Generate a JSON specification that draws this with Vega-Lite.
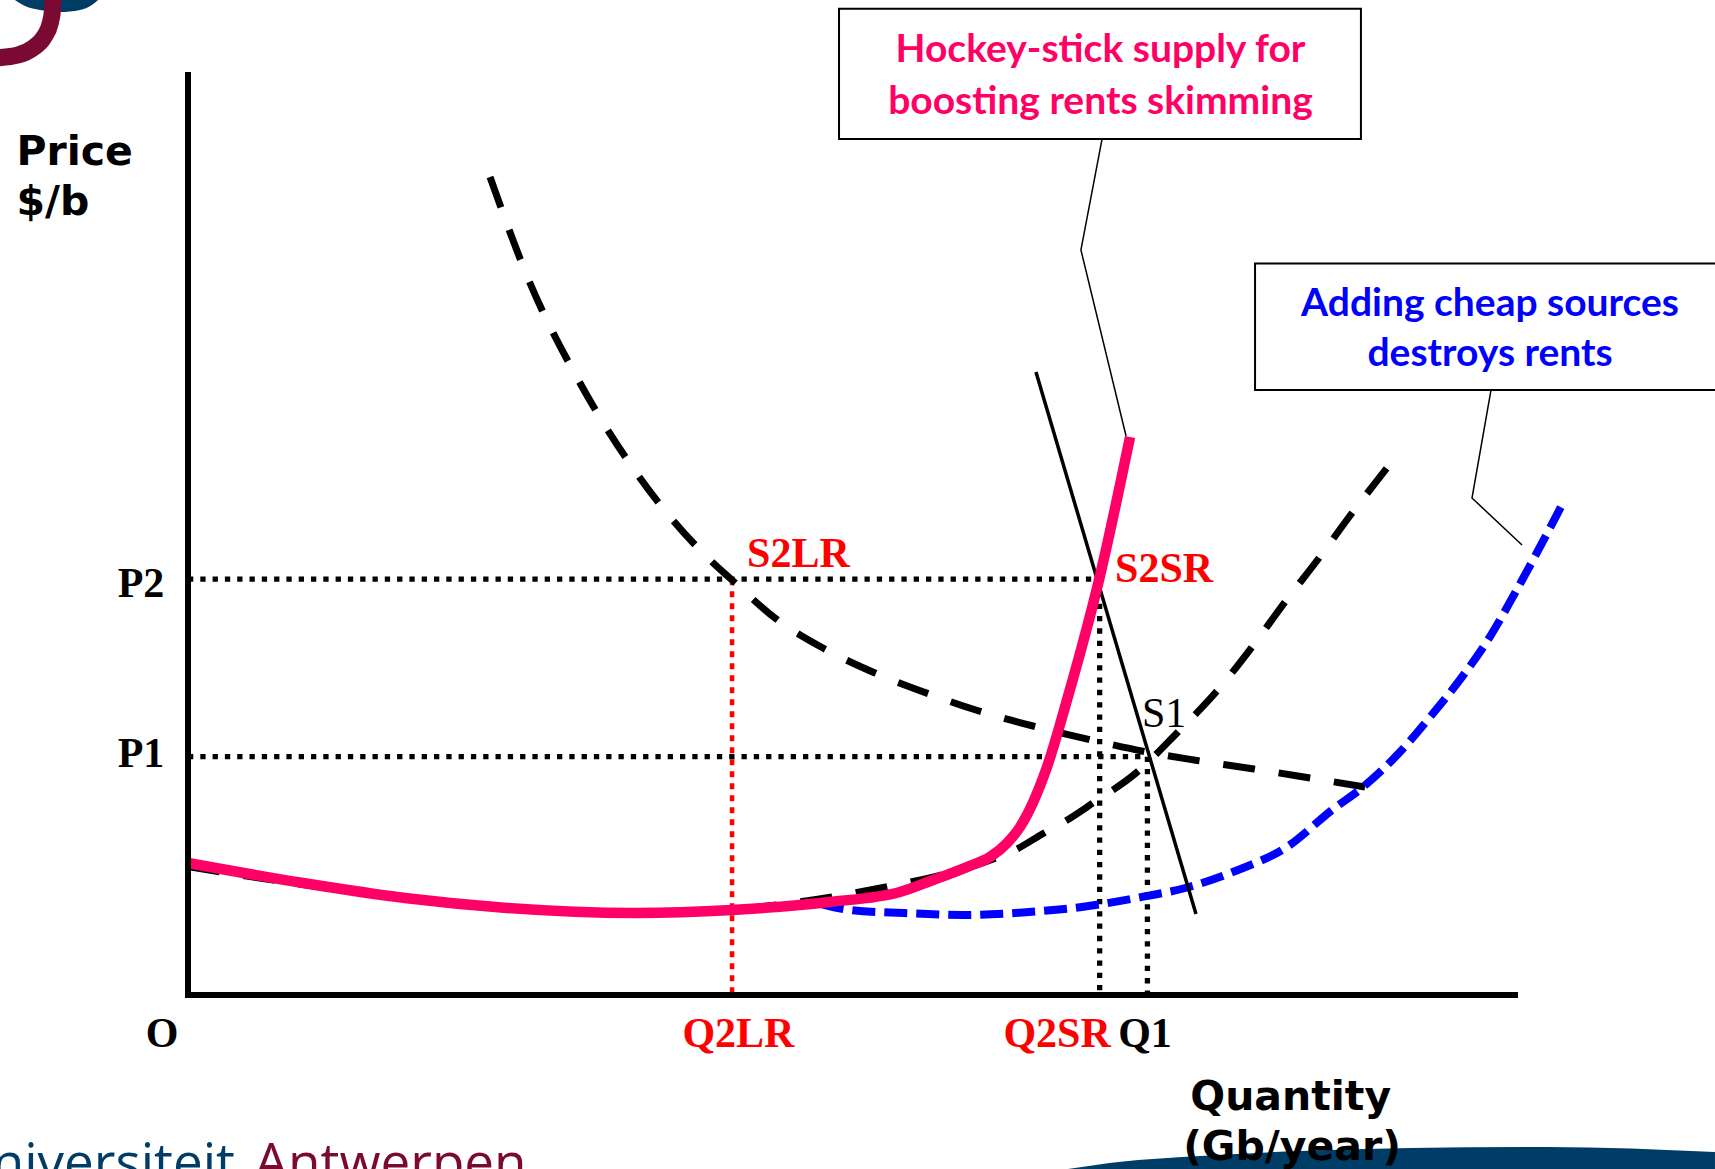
{
  "$schema": "https://vega.github.io/schema/vega-lite/v6.json",
  "width": 1715,
  "height": 1169,
  "autosize": {"type": "none"},
  "padding": 0,
  "background": "white",
  "config": {"view": {"stroke": null}},
  "datasets": {
    "swoosh": [
      {"q": 66.31, "p": -18.91}, {"q": 70.5, "p": -18.1}, {"q": 74.91, "p": -17.61}, {"q": 83.8, "p": -16.96},
      {"q": 92.09, "p": -16.63}, {"q": 102.41, "p": -16.52}, {"q": 115.07, "p": -17.07}
    ],
    "logoArc": [
      {"i": 0, "q": -14.55, "p": 101.85}, {"i": 1, "q": -12.81, "p": 102.17}, {"i": 2, "q": -11.68, "p": 102.93},
      {"i": 3, "q": -10.85, "p": 104.13}, {"i": 4, "q": -10.4, "p": 105.54}, {"i": 5, "q": -10.21, "p": 107.07},
      {"i": 6, "q": -10.17, "p": 108.6}
    ],
    "logoBlob": [
      {"q": -13.04, "p": 108.15}, {"q": -12.28, "p": 107.5}, {"q": -11.15, "p": 107.07}, {"q": -9.65, "p": 106.85},
      {"q": -8.14, "p": 107.07}, {"q": -7.24, "p": 107.61}, {"q": -6.78, "p": 108.15}
    ],
    "boxes": [
      {"q": 49.06, "q2": 88.39, "p": 107.2, "p2": 93.04},
      {"q": 80.41, "q2": 120, "p": 79.5, "p2": 65.76}
    ],
    "leaders": [
      {"id": "L1", "i": 0, "q": 68.88, "p": 93.04}, {"id": "L1", "i": 1, "q": 67.29, "p": 80.98}, {"id": "L1", "i": 2, "q": 70.69, "p": 60.76},
      {"id": "L2", "i": 0, "q": 98.19, "p": 65.76}, {"id": "L2", "i": 1, "q": 96.76, "p": 54.02}, {"id": "L2", "i": 2, "q": 100.53, "p": 48.91}
    ],
    "dottedBlack": [
      {"q": 0, "p": 45.2, "q2": 68.7, "p2": 45.2},
      {"q": 0, "p": 25.9, "q2": 72.3, "p2": 25.9},
      {"q": 68.7, "p": 45.2, "q2": 68.7, "p2": 0},
      {"q": 72.3, "p": 25.9, "q2": 72.3, "p2": 0}
    ],
    "dottedRed": [
      {"q": 41.0, "p": 45.2, "q2": 41.0, "p2": 0}
    ],
    "curveB": [
      {"q": 0, "p": 13.95}, {"q": 8.67, "p": 12.0}, {"q": 16.35, "p": 10.45}, {"q": 24.04, "p": 9.4},
      {"q": 33.68, "p": 8.9}, {"q": 40.99, "p": 9.3}, {"q": 48.3, "p": 10.6}, {"q": 52.6, "p": 11.75},
      {"q": 57.42, "p": 13.3}, {"q": 60.06, "p": 14.46}, {"q": 62.32, "p": 15.76},
      {"q": 64.51, "p": 17.61}, {"q": 66.01, "p": 18.8}, {"q": 68.2, "p": 20.87}, {"q": 71.44, "p": 24.13},
      {"q": 74.6, "p": 28.59}, {"q": 77.47, "p": 32.93}, {"q": 80.18, "p": 37.83}, {"q": 82.67, "p": 42.72},
      {"q": 85.23, "p": 47.5}, {"q": 87.72, "p": 52.39}, {"q": 90.35, "p": 57.28}
    ],
    "curveA": [
      {"q": 22.76, "p": 88.91}, {"q": 25.77, "p": 77.39}, {"q": 29.54, "p": 66.52}, {"q": 34.06, "p": 56.2},
      {"q": 39.34, "p": 47.28}, {"q": 40.99, "p": 45.11}, {"q": 44.23, "p": 40.98}, {"q": 47.85, "p": 37.72},
      {"q": 51.77, "p": 35.0}, {"q": 55.84, "p": 32.72}, {"q": 59.61, "p": 30.87}, {"q": 63.68, "p": 29.24},
      {"q": 68.05, "p": 27.72}, {"q": 72.27, "p": 26.41}, {"q": 75.81, "p": 25.54}, {"q": 80.33, "p": 24.57},
      {"q": 84.55, "p": 23.59}, {"q": 88.7, "p": 22.61}
    ],
    "curveD": [
      {"q": 47.7, "p": 9.89}, {"q": 49.89, "p": 9.24}, {"q": 53.96, "p": 8.91}, {"q": 58.33, "p": 8.7},
      {"q": 63.38, "p": 9.02}, {"q": 67.37, "p": 9.57}, {"q": 71.44, "p": 10.54}, {"q": 75.43, "p": 11.74},
      {"q": 79.13, "p": 13.59}, {"q": 82.82, "p": 16.09}, {"q": 86.21, "p": 20.11}, {"q": 88.55, "p": 22.61},
      {"q": 91.26, "p": 26.3}, {"q": 93.6, "p": 30.22}, {"q": 96.01, "p": 34.57}, {"q": 97.96, "p": 38.59},
      {"q": 100.0, "p": 43.7}, {"q": 103.54, "p": 53.26}
    ],
    "lineE": [
      {"q": 63.9, "p": 67.72, "q2": 75.96, "p2": 8.8}
    ],
    "curveC": [
      {"q": 0, "p": 14.35}, {"q": 8.67, "p": 12.17}, {"q": 16.35, "p": 10.54}, {"q": 24.04, "p": 9.46},
      {"q": 33.68, "p": 8.91}, {"q": 40.99, "p": 9.24}, {"q": 48.3, "p": 10.11}, {"q": 53.65, "p": 11.2},
      {"q": 56.14, "p": 12.5}, {"q": 58.7, "p": 13.91}, {"q": 60.44, "p": 15.0}, {"q": 61.72, "p": 16.52},
      {"q": 62.7, "p": 18.26}, {"q": 64.73, "p": 24.78}, {"q": 66.24, "p": 32.07}, {"q": 68.65, "p": 45.11},
      {"q": 70.99, "p": 60.65}
    ],
    "axes": [
      {"q": 0, "p": 0, "q2": 100, "p2": 0},
      {"q": 0, "p": 100, "q2": 0, "p2": 0}
    ],
    "serifBoldBlackCenter": [
      {"q": -3.54, "p": 43.26, "label": "P2"},
      {"q": -3.54, "p": 24.78, "label": "P1"},
      {"q": -1.96, "p": -5.65, "label": "O"},
      {"q": 72.12, "p": -5.65, "label": "Q1"}
    ],
    "serifBoldRedCenter": [
      {"q": 41.48, "p": -5.65, "label": "Q2LR"},
      {"q": 65.49, "p": -5.65, "label": "Q2SR"}
    ],
    "serifBoldRedLeft": [
      {"q": 42.13, "p": 46.52, "label": "S2LR"},
      {"q": 69.86, "p": 44.89, "label": "S2SR"}
    ],
    "serifBlackLeft": [
      {"q": 71.89, "p": 29.13, "label": "S1"}
    ],
    "sansLeft": [
      {"q": -12.93, "p": 90.22, "label": "Price"},
      {"q": -12.93, "p": 84.78, "label": "$/b"}
    ],
    "sansCenter": [
      {"q": 83.1, "p": -12.5, "label": "Quantity"},
      {"q": 83.2, "p": -17.93, "label": "(Gb/year)"}
    ],
    "box1Text": [
      {"q": 68.76, "p": 101.36, "label": "Hockey-stick supply for"},
      {"q": 68.76, "p": 95.8, "label": "boosting rents skimming"}
    ],
    "box2Text": [
      {"q": 98.12, "p": 73.8, "label": "Adding cheap sources"},
      {"q": 98.12, "p": 68.37, "label": "destroys rents"}
    ],
    "uniLeft": [{"q": 3.54, "p": -20.22, "label": "Universiteit"}],
    "uniRight": [{"q": 5.01, "p": -20.22, "label": "Antwerpen"}]
  },
  "encoding": {
    "x": {"field": "q", "type": "quantitative", "scale": {"domain": [-14.1673, 115.0716], "nice": false, "zero": false}, "axis": null},
    "y": {"field": "p", "type": "quantitative", "scale": {"domain": [-18.913, 108.152], "nice": false, "zero": false}, "axis": null}
  },
  "layer": [
    {
      "data": {"name": "swoosh"},
      "mark": {"type": "area", "color": "#003d66", "interpolate": "monotone", "clip": true},
      "encoding": {"y2": {"datum": -20}}
    },
    {
      "data": {"name": "logoBlob"},
      "mark": {"type": "area", "color": "#003d66", "interpolate": "monotone", "clip": true},
      "encoding": {"y2": {"datum": 110}}
    },
    {
      "data": {"name": "logoArc"},
      "mark": {"type": "line", "color": "#7a0a32", "strokeWidth": 17, "interpolate": "monotone", "clip": true},
      "encoding": {"order": {"field": "i"}}
    },
    {
      "data": {"name": "boxes"},
      "mark": {"type": "rect", "fill": "white", "stroke": "black", "strokeWidth": 2, "clip": true},
      "encoding": {"x2": {"field": "q2"}, "y2": {"field": "p2"}}
    },
    {
      "data": {"name": "leaders"},
      "mark": {"type": "line", "color": "black", "strokeWidth": 1.5},
      "encoding": {"detail": {"field": "id"}, "order": {"field": "i"}}
    },
    {
      "data": {"name": "dottedBlack"},
      "mark": {"type": "rule", "color": "black", "strokeWidth": 5.3, "strokeDash": [5.3, 7]},
      "encoding": {"x2": {"field": "q2"}, "y2": {"field": "p2"}}
    },
    {
      "data": {"name": "dottedRed"},
      "mark": {"type": "rule", "color": "#ff0000", "strokeWidth": 4.5, "strokeDash": [6, 6]},
      "encoding": {"x2": {"field": "q2"}, "y2": {"field": "p2"}}
    },
    {
      "data": {"name": "curveB"},
      "mark": {"type": "line", "color": "black", "strokeWidth": 7, "strokeDash": [32, 24], "interpolate": "monotone"}
    },
    {
      "data": {"name": "curveA"},
      "mark": {"type": "line", "color": "black", "strokeWidth": 7, "strokeDash": [32, 24], "interpolate": "monotone"}
    },
    {
      "data": {"name": "curveD"},
      "mark": {"type": "line", "color": "#0000ff", "strokeWidth": 8, "strokeDash": [23, 9], "interpolate": "monotone"}
    },
    {
      "data": {"name": "lineE"},
      "mark": {"type": "rule", "color": "black", "strokeWidth": 3.5},
      "encoding": {"x2": {"field": "q2"}, "y2": {"field": "p2"}}
    },
    {
      "data": {"name": "curveC"},
      "mark": {"type": "line", "color": "#ff0066", "strokeWidth": 10.5, "interpolate": "monotone"}
    },
    {
      "data": {"name": "axes"},
      "mark": {"type": "rule", "color": "black", "strokeWidth": 6, "strokeCap": "square"},
      "encoding": {"x2": {"field": "q2"}, "y2": {"field": "p2"}}
    },
    {
      "data": {"name": "serifBoldBlackCenter"},
      "mark": {"type": "text", "font": "Liberation Serif", "fontWeight": "bold", "fontSize": 42, "color": "black", "align": "center", "baseline": "alphabetic"},
      "encoding": {"text": {"field": "label"}}
    },
    {
      "data": {"name": "serifBoldRedCenter"},
      "mark": {"type": "text", "font": "Liberation Serif", "fontWeight": "bold", "fontSize": 42, "color": "#ff0000", "align": "center", "baseline": "alphabetic"},
      "encoding": {"text": {"field": "label"}}
    },
    {
      "data": {"name": "serifBoldRedLeft"},
      "mark": {"type": "text", "font": "Liberation Serif", "fontWeight": "bold", "fontSize": 42, "color": "#ff0000", "align": "left", "baseline": "alphabetic"},
      "encoding": {"text": {"field": "label"}}
    },
    {
      "data": {"name": "serifBlackLeft"},
      "mark": {"type": "text", "font": "Liberation Serif", "fontWeight": "normal", "fontSize": 42, "color": "black", "align": "left", "baseline": "alphabetic"},
      "encoding": {"text": {"field": "label"}}
    },
    {
      "data": {"name": "sansLeft"},
      "mark": {"type": "text", "font": "DejaVu Sans", "fontWeight": "bold", "fontSize": 41, "color": "black", "align": "left", "baseline": "alphabetic"},
      "encoding": {"text": {"field": "label"}}
    },
    {
      "data": {"name": "sansCenter"},
      "mark": {"type": "text", "font": "DejaVu Sans", "fontWeight": "bold", "fontSize": 41, "color": "black", "align": "center", "baseline": "alphabetic"},
      "encoding": {"text": {"field": "label"}}
    },
    {
      "data": {"name": "box1Text"},
      "mark": {"type": "text", "font": "Lato", "fontWeight": "bold", "fontSize": 39, "color": "#ff0066", "align": "center", "baseline": "alphabetic"},
      "encoding": {"text": {"field": "label"}}
    },
    {
      "data": {"name": "box2Text"},
      "mark": {"type": "text", "font": "Lato", "fontWeight": "bold", "fontSize": 39, "color": "#0000ff", "align": "center", "baseline": "alphabetic"},
      "encoding": {"text": {"field": "label"}}
    },
    {
      "data": {"name": "uniLeft"},
      "mark": {"type": "text", "font": "Open Sans", "fontSize": 53, "color": "#003d66", "align": "right", "baseline": "alphabetic"},
      "encoding": {"text": {"field": "label"}}
    },
    {
      "data": {"name": "uniRight"},
      "mark": {"type": "text", "font": "Open Sans", "fontSize": 53, "color": "#7a0a32", "align": "left", "baseline": "alphabetic"},
      "encoding": {"text": {"field": "label"}}
    }
  ]
}
